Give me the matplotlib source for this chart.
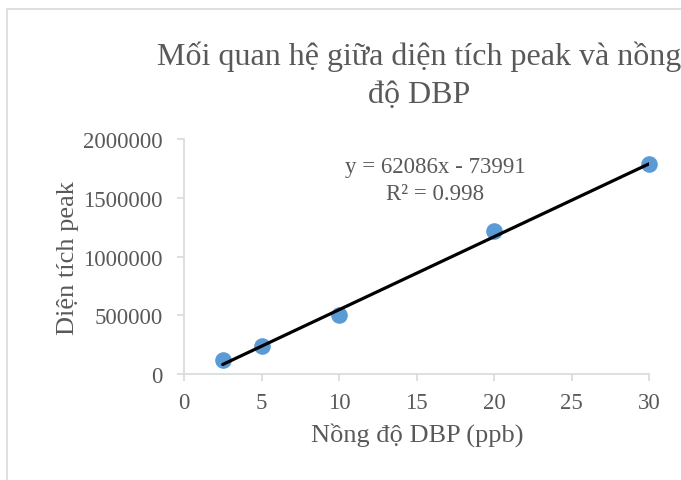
import matplotlib
matplotlib.use("Agg")
import matplotlib.pyplot as plt
from matplotlib.patches import Rectangle

conc = [2.5, 5, 10, 20, 30]
area = [115000, 235000, 505000, 1215000, 1785000]
slope = 62086
intercept = -73991
eq_text = "y = 62086x - 73991"
r2_text = "R² = 0.998"
title = "Mối quan hệ giữa diện tích peak và nồng\nđộ DBP"
xlabel = "Nồng độ DBP (ppb)"
ylabel = "Diện tích peak"
xticks = [0, 5, 10, 15, 20, 25, 30]
yticks = [0, 500000, 1000000, 1500000, 2000000]

plt.rcParams['font.family'] = ['Liberation Serif', 'DejaVu Serif']
grey = '#595959'
axc = '#D9D9D9'

W, H = 681, 481
fig = plt.figure(figsize=(6.81, 4.81), dpi=100)
fig.patches.append(Rectangle((7/W, -0.1), 1.2, 1 - 10/H + 0.1, transform=fig.transFigure,
                             fill=False, edgecolor='#D9D9D9', linewidth=1.2))

AX_L, AX_R, AX_T, AX_B = 184, 649, 140, 375
ax = fig.add_axes([AX_L/W, (H - AX_B)/H, (AX_R - AX_L)/W, (AX_B - AX_T)/H])
ax.set_xlim(0, 30)
ax.set_ylim(0, 2000000)
ax.set_xticks(xticks)
ax.set_yticks(yticks)
ax.set_xticklabels([str(t) for t in xticks])
ax.set_yticklabels([str(t) for t in yticks])
for s in ['top', 'right']:
    ax.spines[s].set_visible(False)
for s in ['left', 'bottom']:
    ax.spines[s].set_color(axc)
    ax.spines[s].set_linewidth(1.2)
ax.tick_params(axis='both', colors=axc, labelcolor=grey, labelsize=16.5, length=5, width=1.2)
ax.tick_params(axis='x', pad=8)
ax.tick_params(axis='y', pad=10.5)

ax.scatter(conc, area, s=120, color='#5B9BD5', zorder=2, clip_on=False)
x0, x1 = conc[0], conc[-1]
ax.plot([x0, x1], [slope * x0 + intercept, slope * x1 + intercept], color='black', lw=2.3, zorder=3,
        solid_capstyle='round')

fig.text(435/W, 1 - 167/H, eq_text, ha='center', va='center', fontsize=16.5, color=grey)
fig.text(435/W, 1 - 195/H, r2_text, ha='center', va='center', fontsize=16.5, color=grey)

ax.set_xlabel(xlabel, fontsize=19, color=grey, va='center')
ax.xaxis.set_label_coords((417 - AX_L) / (AX_R - AX_L), (AX_B - 435) / (AX_B - AX_T))
ax.set_ylabel(ylabel, fontsize=19, color=grey, va='center')
ax.yaxis.set_label_coords((68 - AX_L) / (AX_R - AX_L), (AX_B - 258) / (AX_B - AX_T))

fig.text(419/W, 1 - 76/H, title, ha='center', va='center', fontsize=23, color=grey,
         linespacing=1.4)

fig.savefig("out.png", dpi=100)
